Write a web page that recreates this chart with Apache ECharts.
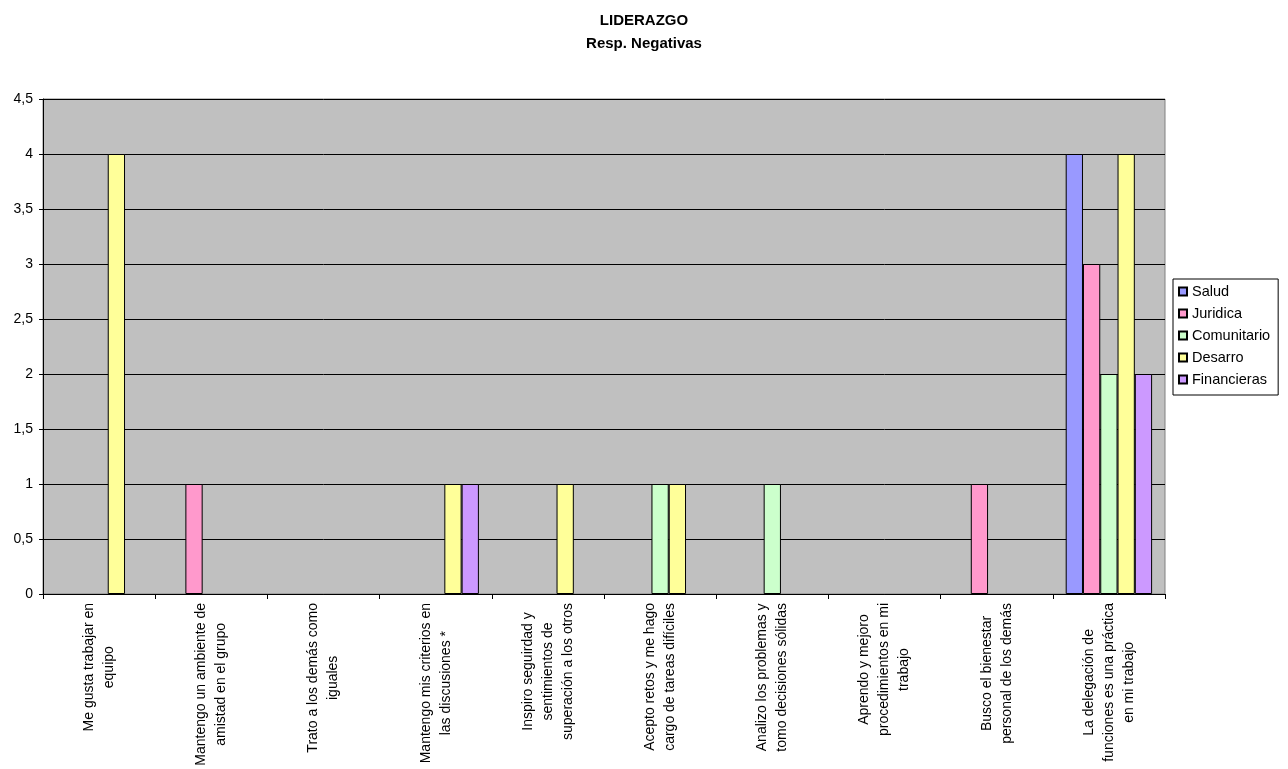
<!DOCTYPE html>
<html><head><meta charset="utf-8">
<script src="https://cdn.jsdelivr.net/npm/echarts@6/dist/echarts.min.js"></script>
<style>html,body{margin:0;padding:0;background:#fff}#c{width:1288px;height:769px}</style>
</head><body><div id="c"></div>
<script>
const categories = [
  "Me gusta trabajar en\nequipo",
  "Mantengo un ambiente de\namistad en el grupo",
  "Trato a los demás como\niguales",
  "Mantengo mis criterios en\nlas discusiones *",
  "Inspiro seguirdad y\nsentimientos de\nsuperación a los otros",
  "Acepto retos y me hago\ncargo de tareas difíciles",
  "Analizo los problemas y\ntomo decisiones sólidas",
  "Aprendo y mejoro\nprocedimientos en mi\ntrabajo",
  "Busco el bienestar\npersonal de los demás",
  "La delegación de\nfunciones es una práctica\nen mi trabajo"
];
const salud       = [0,0,0,0,0,0,0,0,0,4];
const juridica    = [0,1,0,0,0,0,0,0,1,3];
const comunitario = [0,0,0,0,0,1,1,0,0,2];
const desarro     = [4,0,0,1,1,1,0,0,0,4];
const financieras = [0,0,0,1,0,0,0,0,0,2];
const seriesNames = ["Salud","Juridica","Comunitario","Desarro","Financieras"];
const seriesData = [salud, juridica, comunitario, desarro, financieras];
const colors = ["#9999FF","#FF99CC","#CCFFCC","#FFFF99","#CC99FF"];
const FONT = 'Liberation Sans, Arial, sans-serif';

const chart = echarts.init(document.getElementById('c'));
chart.setOption({
  animation: false,
  title: {
    text: "LIDERAZGO\nResp. Negativas",
    left: 'center', top: 4,
    textStyle: {fontFamily: FONT, fontSize: 15, fontWeight: 'bold', color: '#000', lineHeight: 23}
  },
  legend: {
    orient: 'vertical', left: 1173, top: 279,
    padding: [5, 8, 8, 5],
    itemWidth: 8, itemHeight: 8, itemGap: 7,
    borderColor: '#000', borderWidth: 1,
    icon: 'rect',
    textStyle: {fontFamily: FONT, fontSize: 14.5, lineHeight: 14, color: '#000'},
    data: seriesNames
  },
  grid: {
    left: 43, right: 123, top: 99, bottom: 175,
    show: true, backgroundColor: '#C0C0C0', borderColor: '#808080', borderWidth: 1
  },
  xAxis: {
    type: 'category', data: categories,
    axisLine: {lineStyle: {color: '#000'}},
    axisTick: {show: true, length: 5, lineStyle: {color: '#000'}},
    axisLabel: {
      rotate: 90, interval: 0, margin: 9,
      fontFamily: FONT, fontSize: 14, color: '#000', lineHeight: 20,
      formatter: v => v.split('\n').map(s => '{c|' + s + '}').join('\n'),
      rich: {c: {align: 'center', fontFamily: FONT, fontSize: 14, lineHeight: 20, color: '#000'}}
    }
  },
  yAxis: {
    type: 'value', min: 0, max: 4.5, interval: 0.5,
    axisLine: {show: true, lineStyle: {color: '#000'}},
    axisTick: {show: true, length: 4, lineStyle: {color: '#000'}},
    splitLine: {lineStyle: {color: '#000', width: 1}},
    axisLabel: {
      fontFamily: FONT, fontSize: 14, color: '#000', margin: 10,
      formatter: v => String(v).replace('.', ',')
    }
  },
  series: seriesNames.map((n, i) => ({
    name: n, type: 'bar',
    data: seriesData[i].map(v => v === 0 ? '-' : v),
    barGap: '0%', barCategoryGap: '23%',
    itemStyle: {color: colors[i], borderColor: '#000', borderWidth: 1}
  }))
});
</script></body></html>
